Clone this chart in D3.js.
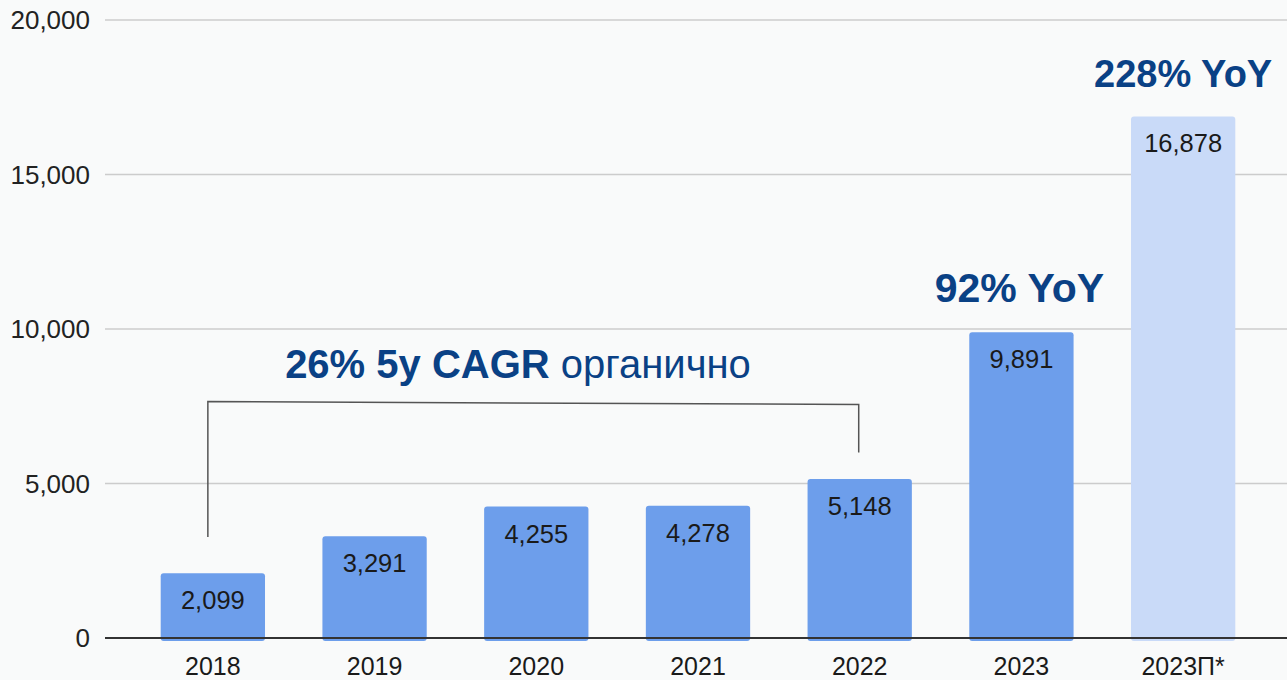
<!DOCTYPE html>
<html lang="ru">
<head>
    <meta charset="UTF-8">
    <title>Revenue by year</title>
    <style>
        body { margin: 0; background: #f9fafa; }
        svg { display: block; font-family: "Liberation Sans", Arial, sans-serif; }
    </style>
    <script src="https://d3js.org/d3.v7.min.js"></script>
</head>
<body>
<svg id="chart" width="1287" height="680"></svg>
<script>
    const years = ["2018", "2019", "2020", "2021", "2022", "2023", "2023П*"];
    const values = [2099, 3291, 4255, 4278, 5148, 9891, 16878];
    const forecast = [false, false, false, false, false, false, true];
    const yTicks = [0, 5000, 10000, 15000, 20000];

    const svg = d3.select("#chart");
    const width = 1287;

    const x = d3.scaleBand()
        .domain(years)
        .range([132, 1264])
        .paddingInner(0.355)
        .paddingOuter(0.1775);

    const y = d3.scaleLinear()
        .domain([0, 20000])
        .range([638, 20]);

    svg.append("rect").attr("width", width).attr("height", 680).attr("fill", "#f9fafa");

    // grid lines and y labels
    const fmt = d3.format(",");
    const grid = svg.append("g");
    yTicks.forEach(function (t) {
        if (t !== 0) {
            grid.append("line")
                .attr("x1", 105).attr("x2", width)
                .attr("y1", y(t)).attr("y2", y(t))
                .attr("stroke", "#cccccc").attr("stroke-width", 1.6);
        }
        grid.append("text")
            .attr("x", 90).attr("y", y(t) + 9)
            .attr("text-anchor", "end")
            .attr("font-size", 26)
            .attr("fill", "#222")
            .text(fmt(t));
    });

    // bars
    svg.append("g").selectAll("rect")
        .data(years)
        .join("rect")
        .attr("x", d => x(d))
        .attr("y", (d, i) => y(values[i]))
        .attr("width", x.bandwidth())
        .attr("height", (d, i) => y(0) - y(values[i]) + 3)
        .attr("rx", 3)
        .attr("fill", (d, i) => forecast[i] ? "#c9daf8" : "#6d9eeb");

    // baseline drawn over bar bottoms
    svg.append("line")
        .attr("x1", 105).attr("x2", width)
        .attr("y1", y(0)).attr("y2", y(0))
        .attr("stroke", "#333").attr("stroke-width", 2);

    // value labels
    svg.append("g").selectAll("text")
        .data(years)
        .join("text")
        .attr("x", d => x(d) + x.bandwidth() / 2)
        .attr("y", (d, i) => y(values[i]) + 36)
        .attr("text-anchor", "middle")
        .attr("font-size", 25.5)
        .attr("fill", "#1a1a1a")
        .text((d, i) => fmt(values[i]));

    // x labels
    svg.append("g").selectAll("text")
        .data(years)
        .join("text")
        .attr("x", d => x(d) + x.bandwidth() / 2)
        .attr("y", 675)
        .attr("text-anchor", "middle")
        .attr("font-size", 25)
        .attr("fill", "#1a1a1a")
        .text(d => d);

    // annotations
    const navy = "#0a4185";
    const yoyLabels = ["92% YoY", "228% YoY"];
    const yoyYears = ["2023", "2023П*"];
    const yoyValues = [10870, 17830];
    const yoySizes = [41, 38];
    yoyLabels.forEach(function (t, i) {
        svg.append("text")
            .attr("x", x(yoyYears[i]) + x.bandwidth() / 2 - (i === 0 ? 2 : 0))
            .attr("y", y(yoyValues[i]))
            .attr("text-anchor", "middle")
            .attr("font-size", yoySizes[i])
            .attr("font-weight", "bold")
            .attr("fill", navy)
            .text(t);
    });

    const cagr = svg.append("text")
        .attr("x", 518)
        .attr("y", y(8410))
        .attr("text-anchor", "middle")
        .attr("font-size", 40)
        .attr("fill", navy);
    cagr.append("tspan").attr("font-weight", "bold").text("26% 5y CAGR ");
    cagr.append("tspan").text("органично");

    // bracket from 2018 to 2022
    const bracketFrom = ["2018", 3270, 7650];
    const bracketTo = ["2022", 6000, 7560];
    const bx0 = x(bracketFrom[0]) + x.bandwidth() / 2 - 5;
    const bx1 = x(bracketTo[0]) + x.bandwidth() / 2 - 1;
    svg.append("path")
        .attr("d", d3.line()([
            [bx0, y(bracketFrom[1])],
            [bx0, y(bracketFrom[2])],
            [bx1, y(bracketTo[2])],
            [bx1, y(bracketTo[1])]
        ]))
        .attr("fill", "none")
        .attr("stroke", "#555")
        .attr("stroke-width", 1.5);
</script>
</body>
</html>
